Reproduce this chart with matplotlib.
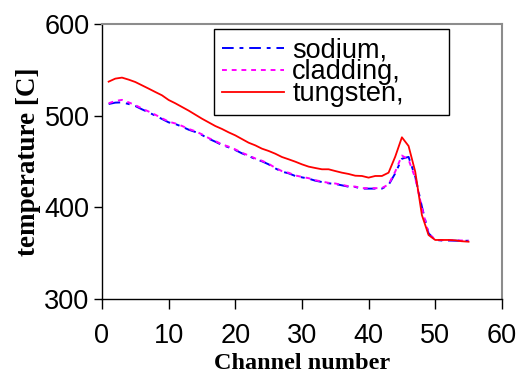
import numpy as np
import matplotlib
matplotlib.use("Agg")
import matplotlib.pyplot as plt

# channel numbers and temperatures
channels = list(range(1, 56))

sodium = [512.7, 514.2, 514.5, 512.7, 510.5, 506.9, 503.6, 500.0, 496.4, 492.7,
          490.9, 488.0, 484.7, 482.2, 478.9, 474.9, 471.6, 468.0, 465.5, 462.5,
          458.9, 456.0, 452.7, 450.2, 446.9, 442.5, 438.9, 437.1, 434.2, 432.7,
          431.3, 429.1, 427.6, 426.2, 425.5, 424.0, 422.5, 422.2, 420.4, 420.4,
          420.4, 420.4, 424.4, 437.1, 453.0, 455.0, 433.5, 400.7, 371.6, 364.4,
          363.8, 363.8, 363.6, 363.5, 363.5]

cladding = [513.5, 516.0, 517.2, 514.5, 511.5, 507.8, 504.5, 501.0, 497.2, 493.5,
            491.5, 488.8, 485.5, 483.0, 479.6, 475.6, 472.3, 468.7, 466.2, 463.2,
            459.5, 456.6, 453.3, 450.8, 447.5, 443.1, 439.5, 437.7, 434.8, 433.2,
            431.8, 429.6, 428.1, 426.7, 426.0, 424.5, 423.0, 422.6, 420.9, 420.9,
            420.9, 421.0, 425.0, 439.0, 456.5, 452.0, 432.0, 399.5, 371.0, 364.6,
            364.2, 364.2, 364.0, 363.8, 363.6]

tungsten = [537.1, 540.4, 541.5, 539.3, 536.7, 533.1, 529.5, 525.8, 522.2, 517.1,
            513.5, 509.5, 505.5, 501.1, 496.7, 492.7, 488.7, 485.5, 481.8, 478.5,
            474.5, 470.5, 467.6, 464.0, 461.5, 458.5, 454.9, 452.4, 449.8, 446.9,
            444.4, 442.9, 441.5, 441.5, 439.6, 437.8, 436.4, 434.5, 434.2, 432.4,
            434.2, 434.2, 437.8, 455.3, 476.4, 466.9, 438.9, 391.6, 369.8, 364.4,
            364.4, 364.4, 364.0, 363.0, 362.5]

x_ticks = [0, 10, 20, 30, 40, 50, 60]
y_ticks = [300, 400, 500, 600]

fig = plt.figure(figsize=(5.19, 3.73), dpi=100)
ax = fig.add_axes([0.1965, 0.1984, 0.7705, 0.7373])

ax.plot(channels, sodium, color="blue", lw=1.4, ls=(0, (6, 3, 2, 3)), label="sodium,")
ax.plot(channels, cladding, color="magenta", lw=1.4, ls=(0, (2.5, 2.5)), label="cladding,")
ax.plot(channels, tungsten, color="red", lw=1.3, ls="-", label="tungsten,")

ax.set_xlim(0, 60)
ax.set_ylim(300, 600)
ax.set_xticks(x_ticks)
ax.set_yticks(y_ticks)

tick_font = {"family": "Liberation Sans", "size": 19.5}
ax.set_xticklabels([str(t) for t in x_ticks], fontdict=tick_font)
ax.set_yticklabels([str(t) for t in y_ticks], fontdict=tick_font)
ax.tick_params(axis="x", direction="out", length=7, width=1, pad=10)
ax.tick_params(axis="y", direction="out", length=6, width=1, pad=3)

for side in ["top", "right"]:
    ax.spines[side].set_color("#8c8c8c")
    ax.spines[side].set_linewidth(1.5)
for side in ["left", "bottom"]:
    ax.spines[side].set_color("black")
    ax.spines[side].set_linewidth(1)

ax.set_xlabel("Channel number", fontfamily="Liberation Serif", fontweight="bold",
              fontsize=17.5, labelpad=3)
ax.set_ylabel("temperature [C]", fontfamily="Liberation Serif", fontweight="bold",
              fontsize=19.5, labelpad=2)

leg = ax.legend(loc="upper left", bbox_to_anchor=(0.2797, 0.5, 0.588, 0.4818),
                mode="expand",
                prop={"family": "Liberation Sans", "size": 19.5},
                frameon=True, fancybox=False, shadow=False, framealpha=1,
                borderpad=0.3, labelspacing=-0.15, handlelength=2.3,
                handletextpad=0.3, borderaxespad=0)
leg.get_frame().set_edgecolor("black")
leg.get_frame().set_linewidth(1)

fig.savefig("out.png", dpi=100)
